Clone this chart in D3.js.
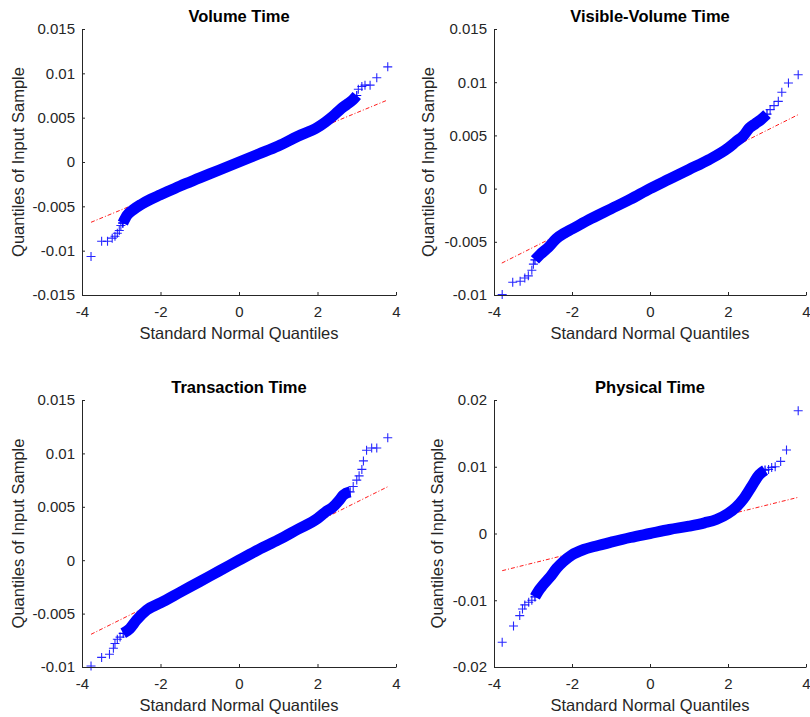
<!DOCTYPE html>
<html>
<head>
<meta charset="utf-8">
<script src="https://cdn.jsdelivr.net/npm/d3@7"></script>
<style>
body{margin:0;background:#fff}
text{font-family:"Liberation Sans",Arial,Helvetica,sans-serif}
</style>
</head>
<body>
<svg id="chart" width="810" height="717"></svg>
<script>
// x ticks shared by all four panels
let xTicks = [-4, -2, 0, 2, 4];
let xTickLabels = ["-4", "-2", "0", "2", "4"];

// Volume Time
let volBodyX = [-2.96,-2.85,-2.7,-2.5,-2.25,-2.0,-1.5,-1.0,-0.5,0,0.5,1.0,1.5,2.0,2.2,2.4,2.6,2.75,2.9,3.0];
let volBodyY = [-0.0069,-0.0060,-0.0054,-0.0048,-0.0042,-0.0037,-0.0027,-0.0018,-0.0009,0.0000,0.0009,0.0018,0.0029,0.0039,0.0045,0.0052,0.0060,0.0065,0.0070,0.0075];
let volTailX = [-3.77,-3.50,-3.35,-3.23,-3.16,-3.10,-3.05,-3.01,-2.96,3.04,3.13,3.21,3.34,3.51,3.79];
let volTailY = [-0.01066,-0.00893,-0.00893,-0.00859,-0.00837,-0.00803,-0.00773,-0.00717,-0.00687,0.0082,0.00852,0.00867,0.00867,0.0095,0.01073];
let volRef = [-3.77,-0.0068,3.79,0.0070];
let volYTicks = [-0.015,-0.01,-0.005,0,0.005,0.01,0.015];
let volYLabels = ["-0.015","-0.01","-0.005","0","0.005","0.01","0.015"];

// Visible-Volume Time
let visBodyX = [-2.95,-2.82,-2.6,-2.4,-2.2,-2.0,-1.5,-1.0,-0.5,0,0.5,1.0,1.5,2.0,2.2,2.4,2.55,2.7,2.85,3.0];
let visBodyY = [-0.0067,-0.0062,-0.0055,-0.0047,-0.0042,-0.0038,-0.0028,-0.0019,-0.0010,0.0000,0.0009,0.0018,0.0027,0.0038,0.0044,0.0050,0.0057,0.0061,0.0065,0.0070];
let visTailX = [-3.79,-3.52,-3.33,-3.21,-3.12,-3.03,-2.99,3.08,3.18,3.29,3.38,3.55,3.80];
let visTailY = [-0.00996,-0.0088,-0.00871,-0.0084,-0.0082,-0.00768,-0.0071,0.00742,0.0078,0.0082,0.00905,0.00993,0.0107];
let visRef = [-3.80,-0.0070,3.80,0.00695];
let visYTicks = [-0.01,-0.005,0,0.005,0.01,0.015];
let visYLabels = ["-0.01","-0.005","0","0.005","0.01","0.015"];

// Transaction Time
let traBodyX = [-2.95,-2.78,-2.61,-2.35,-2.0,-1.5,-1.0,-0.5,0,0.5,1.0,1.5,2.0,2.2,2.4,2.55,2.66,2.83];
let traBodyY = [-0.00685,-0.0064,-0.0056,-0.00466,-0.0040,-0.0030,-0.0020,-0.0010,0.0000,0.0010,0.0019,0.0029,0.0039,0.0045,0.0050,0.0056,0.0061,0.0064];
let traTailX = [-3.77,-3.50,-3.30,-3.20,-3.16,-3.10,-3.03,2.91,3.0,3.06,3.13,3.17,3.25,3.38,3.51,3.79];
let traTailY = [-0.0099,-0.0091,-0.0088,-0.00825,-0.0078,-0.0074,-0.0072,0.0069,0.0075,0.0079,0.0085,0.0093,0.0103,0.0105,0.0105,0.01147];
let traRef = [-3.77,-0.00694,3.79,0.00688];
let traYTicks = [-0.01,-0.005,0,0.005,0.01,0.015];
let traYLabels = ["-0.01","-0.005","0","0.005","0.01","0.015"];

// Physical Time
let phyBodyX = [-2.95,-2.86,-2.74,-2.56,-2.39,-2.22,-2.0,-1.7,-1.4,-1.0,-0.5,0,0.5,1.0,1.4,1.7,2.0,2.2,2.4,2.6,2.8,2.95];
let phyBodyY = [-0.0095,-0.0086,-0.0077,-0.0065,-0.0052,-0.0042,-0.0032,-0.0024,-0.0019,-0.0013,-0.0006,0.0000,0.0006,0.0011,0.0016,0.0021,0.0030,0.0039,0.0052,0.0070,0.0088,0.0095];
let phyTailX = [-3.79,-3.50,-3.34,-3.27,-3.21,-3.11,-3.03,3.04,3.12,3.21,3.35,3.50,3.80];
let phyTailY = [-0.0163,-0.01386,-0.0123,-0.0113,-0.0107,-0.0103,-0.0100,0.0096,0.0099,0.0100,0.0108,0.0125,0.0184];
let phyRef = [-3.79,-0.00557,3.80,0.00542];
let phyYTicks = [-0.02,-0.01,0,0.01,0.02];
let phyYLabels = ["-0.02","-0.01","0","0.01","0.02"];

// panel layout (pixels)
let panels = [
  {title:"Volume Time", bx:volBodyX, by:volBodyY, tx:volTailX, ty:volTailY, ref:volRef,
   yt:volYTicks, yl:volYLabels, left:82, right:396, top:29, bottom:295, ylabX:18},
  {title:"Visible-Volume Time", bx:visBodyX, by:visBodyY, tx:visTailX, ty:visTailY, ref:visRef,
   yt:visYTicks, yl:visYLabels, left:494, right:806, top:29, bottom:295, ylabX:428},
  {title:"Transaction Time", bx:traBodyX, by:traBodyY, tx:traTailX, ty:traTailY, ref:traRef,
   yt:traYTicks, yl:traYLabels, left:82, right:396, top:400, bottom:667, ylabX:18},
  {title:"Physical Time", bx:phyBodyX, by:phyBodyY, tx:phyTailX, ty:phyTailY, ref:phyRef,
   yt:phyYTicks, yl:phyYLabels, left:494, right:806, top:400, bottom:667, ylabX:437}
];

let svg = d3.select("#chart");
let axisColor = "#262626";
let blue = "#0000ff";
let plus = "M-4.5,0H4.5M0,-4.5V4.5";

panels.forEach(function(p){
  let x = d3.scaleLinear().domain([-4,4]).range([p.left, p.right]);
  let y = d3.scaleLinear().domain([p.yt[0], p.yt[p.yt.length-1]]).range([p.bottom, p.top]);
  let g = svg.append("g");

  // reference line (sits under the markers)
  g.append("line")
    .attr("x1", x(p.ref[0])).attr("y1", y(p.ref[1]))
    .attr("x2", x(p.ref[2])).attr("y2", y(p.ref[3]))
    .attr("stroke","#ff0000").attr("stroke-width",0.9)
    .attr("stroke-dasharray","4,2,1,2");

  // body of the sample: dense band of markers
  let body = p.bx.map(function(d,i){ return [d, p.by[i]]; });
  g.append("path")
    .attr("d", d3.line().x(function(d){return x(d[0]);}).y(function(d){return y(d[1]);}).curve(d3.curveMonotoneX)(body))
    .attr("fill","none")
    .attr("stroke", blue)
    .attr("stroke-width", 11)
    .attr("stroke-linejoin","round");
  g.selectAll(".bm").data(body).enter().append("path")
    .attr("d", plus)
    .attr("transform", function(d){ return "translate(" + x(d[0]) + "," + y(d[1]) + ")"; })
    .attr("stroke", blue).attr("stroke-width", 1.2).attr("fill","none");

  // tail markers
  let tail = p.tx.map(function(d,i){ return [d, p.ty[i]]; });
  g.selectAll(".tm").data(tail).enter().append("path")
    .attr("d", plus)
    .attr("transform", function(d){ return "translate(" + x(d[0]) + "," + y(d[1]) + ")"; })
    .attr("stroke", blue).attr("stroke-width", 1.1).attr("fill","none").attr("stroke-opacity",0.85);

  // axes
  let xa = g.append("g")
    .attr("transform","translate(0," + p.bottom + ")")
    .call(d3.axisBottom(x).tickValues(xTicks).tickFormat(function(d,i){return xTickLabels[i];})
      .tickSizeInner(-3).tickSizeOuter(0).tickPadding(6));
  let ya = g.append("g")
    .attr("transform","translate(" + p.left + ",0)")
    .call(d3.axisLeft(y).tickValues(p.yt).tickFormat(function(d,i){return p.yl[i];})
      .tickSizeInner(-3).tickSizeOuter(0).tickPadding(7));
  [xa, ya].forEach(function(a){
    a.select(".domain").attr("stroke", axisColor);
    a.selectAll(".tick line").attr("stroke", axisColor);
    a.selectAll(".tick text").attr("fill", axisColor).style("font-size","15px")
      .style("font-family","'Liberation Sans',Arial,sans-serif");
  });
  xa.selectAll(".tick text").attr("y", 11);

  // titles and labels
  g.append("text")
    .attr("x", (p.left + p.right)/2).attr("y", p.top - 7)
    .attr("text-anchor","middle").attr("font-weight","bold")
    .style("font-size","16.5px").attr("fill","#000")
    .text(p.title);
  g.append("text")
    .attr("x", (p.left + p.right)/2).attr("y", p.bottom + 44)
    .attr("text-anchor","middle").style("font-size","16.5px").attr("fill", axisColor)
    .text("Standard Normal Quantiles");
  g.append("text")
    .attr("transform","translate(" + (p.ylabX + 6) + "," + ((p.top + p.bottom)/2) + ") rotate(-90)")
    .attr("text-anchor","middle").style("font-size","16.5px").attr("fill", axisColor)
    .text("Quantiles of Input Sample");
});
</script>
</body>
</html>
